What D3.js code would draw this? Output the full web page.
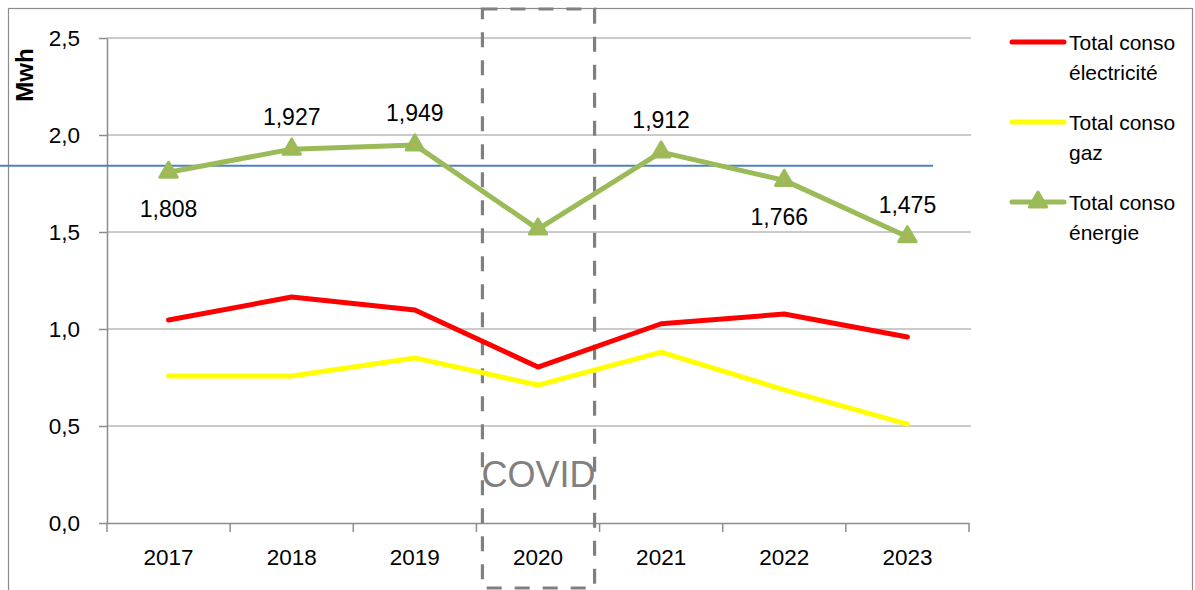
<!DOCTYPE html>
<html>
<head>
<meta charset="utf-8">
<script src="https://cdn.jsdelivr.net/npm/d3@7"></script>
<style>
  body { margin: 0; background: #fff; }
  svg { display: block; font-family: 'Liberation Sans', Arial, sans-serif; }
</style>
</head>
<body>
<div id="chart"></div>
<script>
const years = ['2017', '2018', '2019', '2020', '2021', '2022', '2023']
const elec = [1.046, 1.165, 1.098, 0.804, 1.027, 1.077, 0.959]
const gaz = [0.758, 0.758, 0.851, 0.711, 0.881, 0.686, 0.510]
const energie = [1.808, 1.927, 1.949, 1.515, 1.912, 1.766, 1.475]
const energieLabels = ['1,808', '1,927', '1,949', null, '1,912', '1,766', '1,475']
const labelSide = ['below', 'above', 'above', null, 'above', 'below', 'above']
const yTicks = [0, 0.5, 1.0, 1.5, 2.0, 2.5]
const refValue = 1.842
const covidYear = '2020'

const series = [
  { key: 'elec', label: ['Total conso', 'électricité'], values: elec, color: '#FF0000' },
  { key: 'gaz', label: ['Total conso', 'gaz'], values: gaz, color: '#FFFF00' },
  { key: 'energie', label: ['Total conso', 'énergie'], values: energie, color: '#9BBB59', marker: true }
]

const width = 1195
const height = 590
const plot = { left: 107, right: 969, top: 38, bottom: 523 }

const fr = d3.formatLocale({ decimal: ',', thousands: ' ', grouping: [3], currency: ['', '€'] })

const svg = d3.select('#chart')
  .append('svg')
  .attr('width', width)
  .attr('height', height)

// chart frame
svg.append('rect')
  .attr('x', 8.5).attr('y', 8.5)
  .attr('width', 1184).attr('height', 600)
  .attr('fill', 'none')
  .attr('stroke', '#8c8c8c')
  .attr('stroke-width', 1.2)

const x = d3.scaleBand().domain(years).range([plot.left, plot.right]).padding(0)
const y = d3.scaleLinear().domain([0, 2.5]).range([plot.bottom, plot.top])
const cx = d => x(d) + x.bandwidth() / 2

// ── GRID ───────────────────────────────────────────────
svg.append('g')
  .selectAll('line')
  .data(yTicks.filter(t => t > 0))
  .join('line')
  .attr('x1', plot.left).attr('x2', plot.right + 2)
  .attr('y1', d => y(d)).attr('y2', d => y(d))
  .attr('stroke', '#969696')
  .attr('stroke-width', 1)

// ── Y AXIS ─────────────────────────────────────────────
const yAxis = svg.append('g')
  .attr('transform', `translate(${plot.left},0)`)
  .call(d3.axisLeft(y).tickValues(yTicks).tickFormat(fr.format('.1f')).tickSize(8).tickSizeOuter(0))
yAxis.select('.domain').attr('stroke', '#8c8c8c').attr('stroke-width', 1.5)
yAxis.selectAll('.tick line').attr('stroke', '#8c8c8c').attr('stroke-width', 1.5)
yAxis.selectAll('.tick text')
  .attr('x', -27)
  .attr('font-size', 22.5)
  .attr('fill', '#000')
  .attr('font-family', "'Liberation Sans', Arial, sans-serif")

svg.append('text')
  .attr('transform', `translate(33, 75) rotate(-90)`)
  .attr('text-anchor', 'middle')
  .attr('font-size', 24)
  .attr('font-weight', 'bold')
  .text('Mwh')

// ── X AXIS ─────────────────────────────────────────────
const xAxis = svg.append('g')
  .attr('transform', `translate(0,${plot.bottom})`)
  .call(d3.axisBottom(x).tickSize(0).tickPadding(26))
xAxis.select('.domain').attr('stroke', '#8c8c8c').attr('stroke-width', 1.5)
xAxis.selectAll('.tick text')
  .attr('font-size', 22.5)
  .attr('fill', '#000')
  .attr('font-family', "'Liberation Sans', Arial, sans-serif")

const bounds = years.map(d => x(d)).concat([x(years[years.length - 1]) + x.bandwidth()])
xAxis.selectAll('.bound')
  .data(bounds)
  .join('line')
  .attr('class', 'bound')
  .attr('x1', d => d).attr('x2', d => d)
  .attr('y1', 0).attr('y2', 9)
  .attr('stroke', '#8c8c8c')
  .attr('stroke-width', 1.5)

// ── REFERENCE LINE ─────────────────────────────────────
svg.append('line')
  .attr('x1', 0).attr('x2', 933)
  .attr('y1', y(refValue)).attr('y2', y(refValue))
  .attr('stroke', '#4F81BD')
  .attr('stroke-width', 2)

// ── COVID BOX ──────────────────────────────────────────
const boxL = x(covidYear) + 6
const boxR = x(covidYear) + x.bandwidth() - 5
svg.append('rect')
  .attr('x', boxL).attr('y', 9)
  .attr('width', boxR - boxL).attr('height', 579)
  .attr('fill', 'none')
  .attr('stroke', '#808080')
  .attr('stroke-width', 3.2)
  .attr('stroke-dasharray', '15 13')

svg.append('text')
  .attr('x', (boxL + boxR) / 2)
  .attr('y', 487)
  .attr('text-anchor', 'middle')
  .attr('font-size', 36)
  .attr('fill', '#808080')
  .text('COVID')

// ── LINES ──────────────────────────────────────────────
const line = d3.line()
  .x((d, i) => cx(years[i]))
  .y(d => y(d))

svg.append('g')
  .selectAll('path')
  .data(series)
  .join('path')
  .attr('d', d => line(d.values))
  .attr('fill', 'none')
  .attr('stroke', d => d.color)
  .attr('stroke-width', 5)
  .attr('stroke-linejoin', 'round')
  .attr('stroke-linecap', 'round')

const tri = d3.symbol(d3.symbolTriangle, 130)

const markers = svg.append('g')
  .selectAll('g')
  .data(energie)
  .join('g')
  .attr('transform', (d, i) => `translate(${cx(years[i])},${y(d)})`)
markers.append('path')
  .attr('d', tri)
  .attr('fill', '#9BBB59')
  .attr('stroke', '#9BBB59')
  .attr('stroke-width', 3)
  .attr('stroke-linejoin', 'round')
markers.append('circle')
  .attr('r', 1.2)
  .attr('fill', '#F79646')

// ── DATA LABELS ────────────────────────────────────────
svg.append('g')
  .selectAll('text')
  .data(energie.map((v, i) => ({ v, i, label: energieLabels[i], side: labelSide[i] })).filter(d => d.label))
  .join('text')
  .attr('x', d => cx(years[d.i]) + (d.i === 5 ? -5 : 0))
  .attr('y', d => y(d.v) + (d.side === 'below' ? 45 : -24))
  .attr('text-anchor', 'middle')
  .attr('font-size', 23)
  .attr('fill', '#000')
  .text(d => d.label)

// ── LEGEND ─────────────────────────────────────────────
const legend = svg.append('g')
  .selectAll('g')
  .data(series)
  .join('g')
  .attr('transform', (d, i) => `translate(1010,${42 + i * 80})`)

legend.append('line')
  .attr('x1', 2).attr('x2', 54)
  .attr('stroke', d => d.color)
  .attr('stroke-width', 5)
  .attr('stroke-linecap', 'round')

legend.filter(d => d.marker).append('path')
  .attr('d', tri)
  .attr('transform', 'translate(28,0)')
  .attr('fill', '#9BBB59')
  .attr('stroke', '#9BBB59')
  .attr('stroke-width', 3)
  .attr('stroke-linejoin', 'round')

legend.append('text')
  .attr('x', 59)
  .attr('y', 8)
  .attr('font-size', 21)
  .attr('fill', '#000')
  .selectAll('tspan')
  .data(d => d.label)
  .join('tspan')
  .attr('x', 59)
  .attr('dy', (d, i) => i === 0 ? 0 : 30)
  .text(d => d)
</script>
</body>
</html>
